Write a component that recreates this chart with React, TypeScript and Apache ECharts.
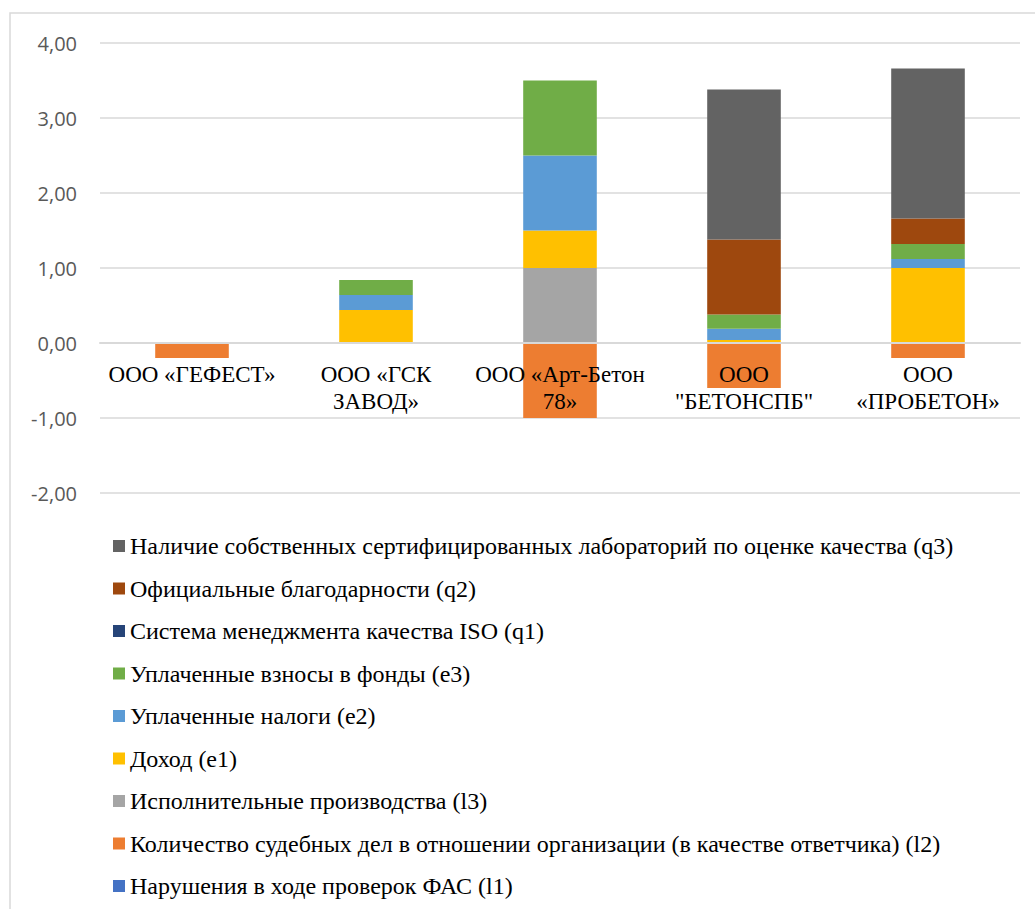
import React, { useEffect, useRef } from "react";
import * as echarts from "echarts";

const categories = [
  "ООО «ГЕФЕСТ»",
  "ООО «ГСК ЗАВОД»",
  "ООО «Арт-Бетон 78»",
  'ООО "БЕТОНСПБ"',
  "ООО «ПРОБЕТОН»",
];

const seriesNames = [
  "Нарушения в ходе проверок ФАС (l1)",
  "Количество судебных дел в отношении организации (в качестве ответчика) (l2)",
  "Исполнительные производства (l3)",
  "Доход (e1)",
  "Уплаченные налоги (e2)",
  "Уплаченные взносы в фонды (e3)",
  "Система менеджмента качества ISO (q1)",
  "Официальные благодарности (q2)",
  "Наличие собственных сертифицированных лабораторий по оценке качества (q3)",
];

const l1 = [0, 0, 0, 0, 0];
const l2 = [-0.2, 0, -1.0, -0.6, -0.2];
const l3 = [0, 0, 1.0, 0, 0];
const e1 = [0, 0.44, 0.5, 0.04, 1.0];
const e2 = [0, 0.2, 1.0, 0.15, 0.12];
const e3 = [0, 0.2, 1.0, 0.19, 0.2];
const q1 = [0, 0, 0, 0, 0];
const q2 = [0, 0, 0, 1.0, 0.34];
const q3 = [0, 0, 0, 2.0, 2.0];

const seriesValues = [l1, l2, l3, e1, e2, e3, q1, q2, q3];

const colors = [
  "#4472C4",
  "#ED7D31",
  "#A5A5A5",
  "#FFC000",
  "#5B9BD5",
  "#70AD47",
  "#264478",
  "#9E480E",
  "#636363",
];

const LABEL_FONT = "23px 'Liberation Serif'";
const LABEL_WIDTH = 184;

function wrapLabel(text: string): string {
  const canvas = document.createElement("canvas");
  const ctx = canvas.getContext("2d");
  if (!ctx) return text;
  ctx.font = LABEL_FONT;
  const words = text.split(" ");
  const lines: string[] = [];
  let cur = "";
  for (const w of words) {
    const trial = cur ? cur + " " + w : w;
    if (cur && ctx.measureText(trial).width > LABEL_WIDTH) {
      lines.push(cur);
      cur = w;
    } else {
      cur = trial;
    }
  }
  if (cur) lines.push(cur);
  return lines.join("\n");
}

export default function App() {
  const ref = useRef<HTMLDivElement>(null);

  useEffect(() => {
    document.body.style.margin = "0";
    if (!ref.current) return;
    const chart = echarts.init(ref.current, undefined, { renderer: "svg" });
    const serif = "Liberation Serif";
    chart.setOption({
      animation: false,
      backgroundColor: "#ffffff",
      graphic: [
        {
          type: "rect",
          shape: { x: 10, y: 13, width: 1200, height: 1000 },
          style: { fill: "none", stroke: "#d9d9d9", lineWidth: 1.5 },
          silent: true,
        },
      ],
      grid: { left: 100, right: 15, top: 43, height: 450 },
      legend: {
        orient: "vertical",
        left: 108,
        top: 529,
        padding: 5,
        itemWidth: 12,
        itemHeight: 12,
        itemGap: 18.5,
        icon: "rect",
        data: seriesNames.slice().reverse(),
        textStyle: {
          fontFamily: serif,
          fontSize: 24,
          color: "#000000",
          lineHeight: 24,
        },
      },
      xAxis: {
        type: "category",
        data: categories,
        z: 5,
        offset: -150,
        axisLine: { show: true, onZero: false, lineStyle: { color: "#d9d9d9", width: 2 } },
        axisTick: { show: false },
        axisLabel: {
          interval: 0,
          hideOverlap: false,
          margin: 18,
          formatter: (v: string) => wrapLabel(v),
          fontFamily: serif,
          fontSize: 23,
          lineHeight: 27,
          color: "#000000",
        },
      },
      yAxis: {
        type: "value",
        min: -2,
        max: 4,
        interval: 1,
        axisLine: { show: false },
        axisTick: { show: false },
        splitLine: { lineStyle: { color: "#d9d9d9", width: 1.5 } },
        axisLabel: {
          margin: 23,
          fontFamily: "Open Sans",
          fontSize: 20,
          color: "#595959",
          formatter: (v: number) => v.toFixed(2).replace(".", ","),
        },
      },
      series: seriesNames.map((name, i) => ({
        name,
        type: "bar",
        stack: "total",
        barWidth: "40%",
        data: seriesValues[i],
        itemStyle: { color: colors[i] },
      })),
    });
    return () => chart.dispose();
  }, []);

  return <div ref={ref} style={{ width: 1035, height: 909 }} />;
}
